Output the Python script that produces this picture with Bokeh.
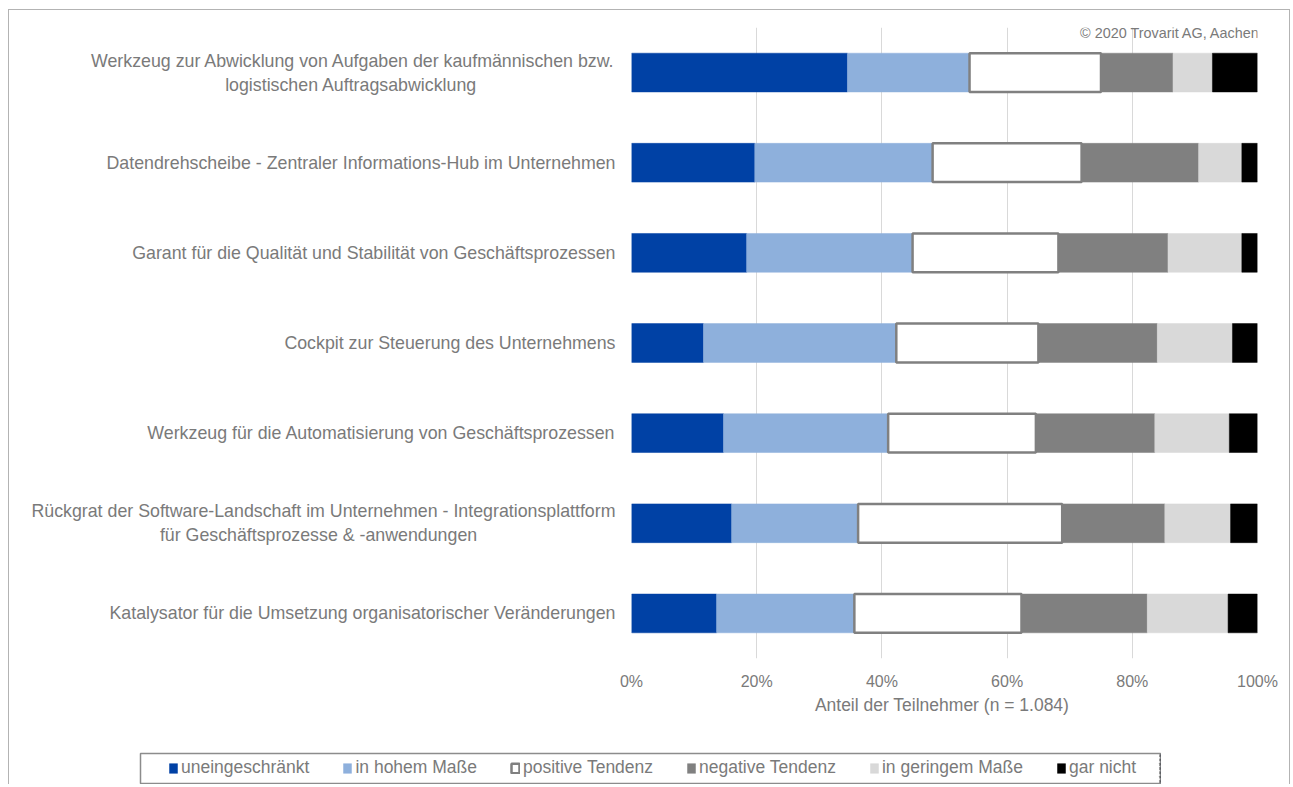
from bokeh.plotting import figure
from bokeh.models import (FactorRange, Range1d, FixedTicker, PrintfTickFormatter,
                          Legend, LegendItem, Label, ColumnDataSource)
from bokeh.embed import file_html
from bokeh.resources import INLINE

NB = "\u00a0"
categories = [
    "Werkzeug zur Abwicklung von Aufgaben der kaufmännischen bzw.\nlogistischen Auftragsabwicklung" + NB * 28,
    "Datendrehscheibe - Zentraler Informations-Hub im Unternehmen",
    "Garant für die Qualität und Stabilität von Geschäftsprozessen",
    "Cockpit zur Steuerung des Unternehmens",
    "Werkzeug für die Automatisierung von Geschäftsprozessen",
    "Rückgrat der Software-Landschaft im Unternehmen - Integrationsplattform\nfür Geschäftsprozesse & -anwendungen" + NB * 28,
    "Katalysator für die Umsetzung organisatorischer Veränderungen",
]
series_names = ["uneingeschränkt", "in hohem Maße", "positive Tendenz",
                "negative Tendenz", "in geringem Maße", "gar nicht"]
uneingeschraenkt = [34.5, 19.7, 18.4, 11.5, 14.7, 16.0, 13.6]
in_hohem_masse = [19.5, 28.4, 26.5, 30.8, 26.3, 20.2, 22.0]
positive_tendenz = [21.0, 23.8, 23.3, 22.7, 23.6, 32.6, 26.7]
negative_tendenz = [11.5, 18.7, 17.5, 19.0, 19.0, 16.4, 20.1]
in_geringem_masse = [6.3, 6.9, 11.8, 12.0, 11.9, 10.5, 12.9]
gar_nicht = [7.2, 2.5, 2.5, 4.0, 4.5, 4.3, 4.7]
x_ticks = [0, 20, 40, 60, 80, 100]
x_title = "Anteil der Teilnehmer  (n = 1.084)"
copyright_text = "© 2020 Trovarit AG, Aachen"

colors = ["#0041A5", "#8EB0DC", "#FFFFFF", "#808080", "#D9D9D9", "#000000"]
line_colors = ["#0041A5", "#8EB0DC", "#808080", "#808080", "#D9D9D9", "#000000"]
line_widths = [0.5, 0.5, 2.5, 0.5, 0.5, 0.5]
TXT = "#7a7a7a"
FONT = "Liberation Sans"

values = [uneingeschraenkt, in_hohem_masse, positive_tendenz,
          negative_tendenz, in_geringem_masse, gar_nicht]

# stacked segment boundaries
bounds = []
left = [0.0] * len(categories)
for v in values:
    right = [a + b for a, b in zip(left, v)]
    bounds.append((list(left), right))
    left = right

# ---------------- main chart ----------------
p = figure(width=1282, height=775, output_backend="svg", toolbar_location=None,
           y_range=FactorRange(*reversed(categories)), x_range=(0, 100),
           min_border_left=622, min_border_right=34, min_border_top=17,
           min_border_bottom=127, margin=(9, 0, 0, 8))
p.styles = {"border": "1px solid #b3b3b3", "border-bottom": "none"}
p.outline_line_color = None
p.background_fill_color = "white"
p.border_fill_color = "white"

for i, (lft, rgt) in enumerate(bounds):
    src = ColumnDataSource(dict(cat=categories, left=lft, right=rgt))
    p.hbar(y="cat", left="left", right="right", height=0.43, source=src,
           fill_color=colors[i], line_color=line_colors[i],
           line_width=line_widths[i])

p.xaxis.ticker = FixedTicker(ticks=x_ticks)
p.xaxis.formatter = PrintfTickFormatter(format="%d%%")
p.xaxis.axis_line_color = None
p.xaxis.major_tick_line_color = None
p.xaxis.minor_tick_line_color = None
p.xaxis.major_tick_out = 0
p.xaxis.major_tick_in = 0
p.xaxis.minor_tick_out = 0
p.xaxis.major_label_standoff = 14
p.xaxis.major_label_text_font = FONT
p.xaxis.major_label_text_font_size = "16px"
p.xaxis.major_label_text_color = TXT
p.xaxis.axis_label = x_title
p.xaxis.axis_label_text_font = FONT
p.xaxis.axis_label_text_font_size = "17.5px"
p.xaxis.axis_label_text_font_style = "normal"
p.xaxis.axis_label_text_color = TXT
p.xaxis.axis_label_standoff = 2

p.yaxis.axis_line_color = None
p.yaxis.major_tick_line_color = None
p.yaxis.minor_tick_line_color = None
p.yaxis.major_tick_out = 0
p.yaxis.major_tick_in = 0
p.yaxis.major_label_standoff = 16
p.yaxis.major_label_text_font = FONT
p.yaxis.major_label_text_font_size = "17.8px"
p.yaxis.major_label_text_color = TXT
p.yaxis.major_label_text_align = "right"

p.xgrid.grid_line_color = "#D9D9D9"
p.xgrid.grid_line_width = 1
p.ygrid.grid_line_color = None

p.add_layout(Label(x=100, y=625.5, y_units="screen", x_offset=3,
                   text=copyright_text, text_align="right",
                   text_baseline="middle", text_font=FONT,
                   text_font_size="14.4px", text_color=TXT))

# ---------------- legend strip (separate root, placed over the chart) ----------------
q = figure(width=1022, height=32, output_backend="svg", toolbar_location=None,
           x_range=Range1d(-20, -10), y_range=FactorRange(*categories),
           min_border_left=1, min_border_right=1, min_border_top=1,
           min_border_bottom=1)
q.styles = {"position": "absolute", "left": "139px", "top": "752px"}
q.axis.visible = False
q.grid.visible = False
q.outline_line_color = "#8c8c8c"
q.outline_line_width = 1.5
q.background_fill_color = "white"
q.border_fill_color = "white"

proxies = []
for i, (lft, rgt) in enumerate(bounds):
    src = ColumnDataSource(dict(cat=categories, left=lft, right=rgt))
    proxies.append(q.hbar(y="cat", left="left", right="right", height=0.43,
                          source=src, fill_color=colors[i],
                          line_color=line_colors[i], line_width=line_widths[i]))
items = [LegendItem(label=n, renderers=[r]) for n, r in zip(series_names, proxies)]
legend = Legend(items=items, orientation="horizontal", location=(28, 5),
                glyph_width=10, glyph_height=12, label_standoff=3, spacing=33,
                padding=0, label_height=20, margin=0,
                label_text_font=FONT, label_text_font_size="17.5px",
                label_text_color=TXT, border_line_color=None,
                background_fill_alpha=0)
q.add_layout(legend, "center")

open("out.html", "w").write(file_html([p, q], INLINE))
